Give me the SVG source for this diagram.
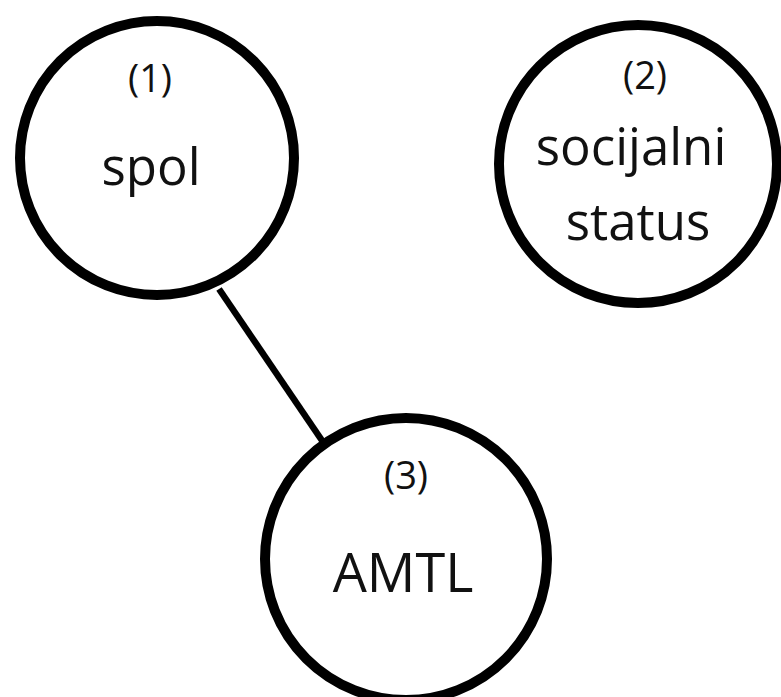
<svg xmlns="http://www.w3.org/2000/svg" width="781" height="697" viewBox="0 0 781 697">
<style>
.node{fill:#fff;stroke:#000;stroke-width:10}
.edge{stroke:#000;stroke-width:6.5;fill:none}
text{font-family:"Open Sans","DejaVu Sans",sans-serif;fill:#111;text-anchor:middle}
.num{font-size:38px}
.lbl{font-size:51px}
</style>
<rect width="781" height="697" fill="#fff"/>
<g id="connectors">
<line class="edge" x1="219" y1="289" x2="323" y2="442"/>
</g>
<g id="node1">
<circle class="node" cx="157" cy="158" r="137"/>
<text class="num" x="150" y="92">(1)</text>
<text class="lbl" x="151" y="185">spol</text>
</g>
<g id="node2">
<circle class="node" cx="638" cy="164" r="139"/>
<text class="num" x="645" y="89">(2)</text>
<text class="lbl" x="631" y="165">socijalni</text>
<text class="lbl" x="638" y="240">status</text>
</g>
<g id="node3">
<circle class="node" cx="406" cy="559" r="141"/>
<text class="num" x="406" y="489">(3)</text>
<text class="lbl" x="403" y="592" style="font-size:54px">AMTL</text>
</g>
</svg>
